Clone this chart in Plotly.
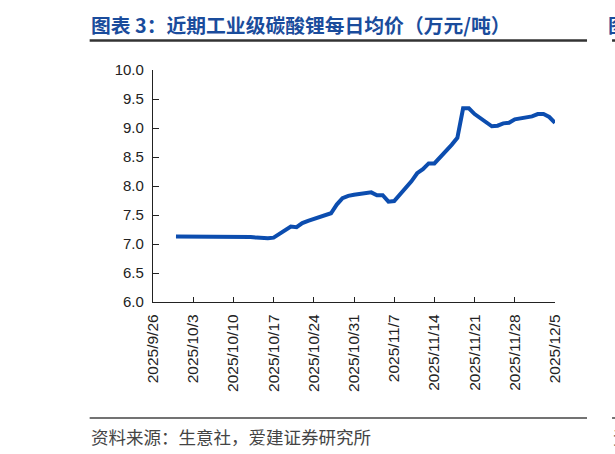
import plotly.graph_objects as go

dates = ["2025-09-30", "2025-10-09", "2025-10-10", "2025-10-13", "2025-10-14", "2025-10-15",
         "2025-10-16", "2025-10-17", "2025-10-20", "2025-10-21", "2025-10-22", "2025-10-23",
         "2025-10-24", "2025-10-27", "2025-10-28", "2025-10-29", "2025-10-30", "2025-10-31",
         "2025-11-03", "2025-11-04", "2025-11-05", "2025-11-06", "2025-11-07", "2025-11-10",
         "2025-11-11", "2025-11-12", "2025-11-13", "2025-11-14", "2025-11-17", "2025-11-18",
         "2025-11-19", "2025-11-20", "2025-11-21", "2025-11-24", "2025-11-25", "2025-11-26",
         "2025-11-27", "2025-11-28", "2025-12-01", "2025-12-02", "2025-12-03", "2025-12-04",
         "2025-12-05"]
prices = [7.13, 7.13, 7.13, 7.12, 7.11, 7.10,
          7.10, 7.11, 7.30, 7.29, 7.36, 7.40,
          7.43, 7.53, 7.68, 7.79, 7.83, 7.85,
          7.89, 7.84, 7.84, 7.73, 7.74, 8.08,
          8.22, 8.29, 8.39, 8.39, 8.71, 8.83,
          9.34, 9.34, 9.24, 9.03, 9.04, 9.08,
          9.09, 9.15, 9.20, 9.24, 9.24, 9.19,
          9.09]

tick_vals = ["2025-09-26", "2025-10-03", "2025-10-10", "2025-10-17", "2025-10-24", "2025-10-31",
             "2025-11-07", "2025-11-14", "2025-11-21", "2025-11-28", "2025-12-05"]
tick_text = ["2025/9/26", "2025/10/3", "2025/10/10", "2025/10/17", "2025/10/24", "2025/10/31",
             "2025/11/7", "2025/11/14", "2025/11/21", "2025/11/28", "2025/12/5"]

title_text = "图表 3：近期工业级碳酸锂每日均价（万元/吨）"
source_text = "资料来源：生意社，爱建证券研究所"

W, H = 615, 454
L, R = 153.3, 555.0
T, B = 70.0, 302.0
PW, PH = R - L, B - T


def px(x):
    return (x - L) / PW


def py(y):
    return (B - y) / PH


fig = go.Figure()
fig.add_trace(go.Scatter(x=dates, y=prices, mode="lines",
                         line=dict(color="#0C4DAF", width=4), showlegend=False))

axis_font = dict(family="Liberation Sans, Arial", size=15, color="#222222")
fig.update_layout(
    width=W, height=H,
    margin=dict(l=L, r=W - R, t=T, b=H - B, pad=0),
    paper_bgcolor="white", plot_bgcolor="white",
    xaxis=dict(type="date", range=["2025-09-26", "2025-12-05"],
               tickmode="array", tickvals=tick_vals, ticktext=tick_text,
               tickangle=-90, tickfont=dict(family="Liberation Sans, Arial", size=15.5, color="#222222"),
               ticklabelstandoff=5,
               showgrid=False, zeroline=False,
               showline=True, linecolor="#222222", linewidth=1.3,
               ticks="inside", ticklen=5, tickcolor="#222222", tickwidth=1),
    yaxis=dict(range=[6.0, 10.0], tickvals=[6.0, 6.5, 7.0, 7.5, 8.0, 8.5, 9.0, 9.5, 10.0],
               tickformat=".1f", tickfont=axis_font, ticklabelstandoff=5,
               showgrid=False, zeroline=False,
               showline=True, linecolor="#222222", linewidth=1.3,
               ticks="inside", ticklen=6, tickcolor="#222222", tickwidth=1),
)

cjk = "Noto Sans CJK SC"
annotations = [
    dict(text="<b>" + title_text + "</b>", x=px(89), y=py(24), xanchor="left", yanchor="middle",
         font=dict(family=cjk, size=19.8, color="#1A4C9C")),
    dict(text="<b>图表</b>", x=px(606), y=py(24), xanchor="left", yanchor="middle",
         font=dict(family=cjk, size=19.8, color="#1A4C9C")),
    dict(text=source_text, x=px(89), y=py(436), xanchor="left", yanchor="middle",
         font=dict(family=cjk, size=17.5, color="#444444")),
    dict(text="资料", x=px(611), y=py(436), xanchor="left", yanchor="middle",
         font=dict(family=cjk, size=17.5, color="#444444")),
]
for a in annotations:
    a.update(xref="paper", yref="paper", showarrow=False)
fig.update_layout(annotations=annotations)

shapes = [
    dict(x0=px(90), x1=px(587), y0=py(40.5), y1=py(40.5), line=dict(color="#333333", width=2.5)),
    dict(x0=px(612), x1=px(640), y0=py(40.5), y1=py(40.5), line=dict(color="#333333", width=2.5)),
    dict(x0=px(90), x1=px(587), y0=py(418), y1=py(418), line=dict(color="#444444", width=1.5)),
    dict(x0=px(612), x1=px(640), y0=py(418), y1=py(418), line=dict(color="#444444", width=1.5)),
]
for s in shapes:
    s.update(type="line", xref="paper", yref="paper")
fig.update_layout(shapes=shapes)

fig.write_html("out.html")
